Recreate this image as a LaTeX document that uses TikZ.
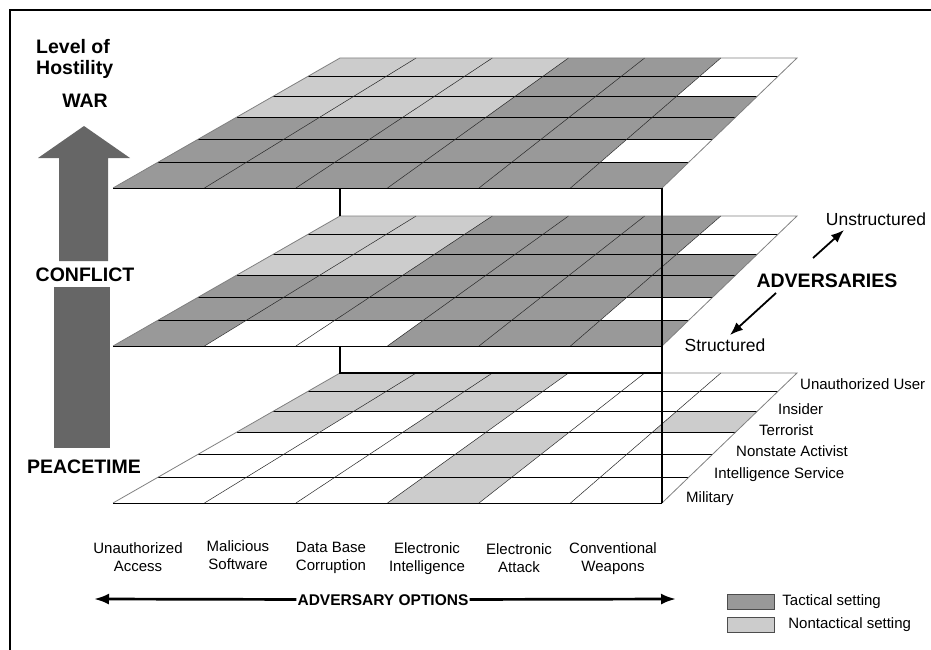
\documentclass[tikz,border=0pt]{standalone}
\usepackage{fontspec}
\setmainfont{Liberation Sans}
\usetikzlibrary{arrows.meta,positioning}
\definecolor{tac}{gray}{0.6}
\definecolor{ntac}{gray}{0.8}
\definecolor{bigarrow}{gray}{0.4}
\tikzstyle{lbl} = [font=\fontsize{15}{18}\selectfont,inner sep=0pt,align=center]
\tikzstyle{head} = [font=\fontsize{19.5}{21}\selectfont\bfseries,inner sep=0pt]
\tikzstyle{side} = [font=\fontsize{17.5}{20}\selectfont,inner sep=0pt]
\tikzstyle{rowline} = [black,line width=0.8pt]
\tikzstyle{colline} = [black!85,line width=0.5pt]
\tikzstyle{rim} = [black!50,line width=0.8pt]
\tikzstyle{boxline} = [black,line width=1.1pt]
\tikzstyle{legbox} = [draw=black!70,minimum width=47pt,minimum height=15pt,inner sep=0pt]

% one 6x6 layer: name, y of front edge, rows of cell tones (front to back)
\newcommand{\gridlayer}[3]{%
  \foreach \ri in {0,...,6}{%
    \pgfmathsetmacro\fr{{0,0.1937,0.3753,0.5457,0.7061,0.8573,1}[\ri]}%
    \foreach \ci in {0,...,6}
      \coordinate (#1-\ri-\ci) at ({113+227*\fr+\ci*(549-92*\fr)/6},{#2-130*\fr});
  }
  \foreach \cells [count=\ri] in {#3}{%
    \foreach \tone [count=\ci] in \cells{%
      \pgfmathtruncatemacro\rj{\ri-1}%
      \pgfmathtruncatemacro\cj{\ci-1}%
      \fill[\tone] (#1-\rj-\cj) -- (#1-\rj-\ci) -- (#1-\ri-\ci) -- (#1-\ri-\cj) -- cycle;
    }
  }
  \foreach \ri in {1,...,5} \draw[rowline] (#1-\ri-0) -- (#1-\ri-6);
  \foreach \ci in {1,...,5} \draw[colline] (#1-0-\ci) -- (#1-6-\ci);
  \draw[rim] (#1-0-0) -- (#1-6-0) -- (#1-6-6) -- (#1-0-6);
  \draw[rowline] (#1-0-0) -- (#1-0-6);
}

\begin{document}
\begin{tikzpicture}[x=1pt,y=-1pt,>={Latex[length=15pt,width=11pt]}]
    \useasboundingbox (0,0) rectangle (931,650);
    \draw[line width=2pt] (931,10) -- (10,10) -- (10,650);

    % level of hostility
    \node[head,anchor=north west,align=left] (level) at (36,39) {Level of\\Hostility};
    \node[head,anchor=base] (war) at (85,108) {WAR};
    \fill[bigarrow] (59,261) -- (59,158) -- (38,158) -- (84,126) -- (130,158) -- (108,158) -- (108,261) -- cycle;
    \node[head,anchor=base] (conflict) at (85,281) {CONFLICT};
    \fill[bigarrow] (54,287) rectangle (110,448);
    \node[head,anchor=base] (peace) at (84,473) {PEACETIME};

    \gridlayer{bot}{503}{{white,white,white,ntac,white,white},{white,white,white,ntac,white,white},
      {white,white,white,ntac,white,white},{ntac,white,ntac,white,white,ntac},
      {ntac,ntac,ntac,white,white,white},{ntac,ntac,ntac,white,white,white}}

    \gridlayer{mid}{346}{{tac,white,white,tac,tac,tac},{tac,tac,tac,tac,tac,white},
      {tac,tac,tac,tac,tac,tac},{ntac,ntac,tac,tac,tac,tac},
      {ntac,ntac,tac,tac,tac,white},{ntac,ntac,tac,tac,tac,white}}

    \gridlayer{top}{188}{{tac,tac,tac,tac,tac,tac},{tac,tac,tac,tac,tac,white},
      {tac,tac,tac,tac,tac,tac},{ntac,ntac,ntac,tac,tac,tac},
      {ntac,ntac,ntac,tac,tac,white},{ntac,ntac,ntac,tac,tac,white}}

    % posts between the layers
    \draw[boxline] (mid-6-0 |- top-0-0) -- (mid-6-0);
    \draw[boxline] (bot-6-0 |- mid-0-0) -- (bot-6-0) -- (bot-6-0 -| bot-0-6);
    \draw[boxline] (top-0-6) -- (bot-0-6);

    % adversary options
    \node[lbl,anchor=north] (access) at (138,542) {Unauthorized\\Access};
    \node[lbl,anchor=north] (malware) at (238,540) {Malicious\\Software};
    \node[lbl,anchor=north] (database) at (331,542) {Data Base\\Corruption};
    \node[lbl,anchor=north] (elint) at (427,542) {Electronic\\Intelligence};
    \node[lbl,anchor=north] (attack) at (519,543) {Electronic\\Attack};
    \node[lbl,anchor=north] (weapons) at (613,542) {Conventional\\Weapons};

    % adversaries
    \node[lbl,anchor=base west] (military) at (686,502) {Military};
    \node[lbl,anchor=base west] (service) at (714,478) {Intelligence Service};
    \node[lbl,anchor=base west] (activist) at (736,456) {Nonstate Activist};
    \node[lbl,anchor=base west] (terrorist) at (759,435) {Terrorist};
    \node[lbl,anchor=base west] (insider) at (778,414) {Insider};
    \node[lbl,anchor=base west] (user) at (800,389) {Unauthorized User};

    \node[head,anchor=base] (adv) at (827,287) {ADVERSARIES};
    \node[side,anchor=base] (unstr) at (876,225) {Unstructured};
    \node[side,anchor=base] (str) at (725,351) {Structured};
    \coordinate (u1) at (813,258);
    \coordinate (u2) at (844,230);
    \coordinate (s1) at (776,293);
    \coordinate (s2) at (730,335);
    \draw[line width=1.8pt,-{Latex[length=13pt,width=10pt]}] (u1) -- (u2);
    \draw[line width=1.8pt,-{Latex[length=13pt,width=10pt]}] (s1) -- (s2);

    \node[font=\fontsize{15.5}{18}\selectfont\bfseries,inner sep=1pt,anchor=base] (opts) at (383,605) {ADVERSARY OPTIONS};
    \coordinate (optL) at (94,599);
    \coordinate (optR) at (676,599);
    \draw[->,line width=2.7pt] (opts) -- (optL);
    \draw[->,line width=2.7pt] (opts) -- (optR);

    % legend
    \node[legbox,fill=tac] (tacbox) at (750.5,602) {};
    \node[legbox,fill=ntac] (ntacbox) at (750.5,625) {};
    \node[lbl,right=8pt of tacbox] (taclabel) {Tactical setting};
    \node[lbl,right=14pt of ntacbox] (ntaclabel) {Nontactical setting};
\end{tikzpicture}
\end{document}
